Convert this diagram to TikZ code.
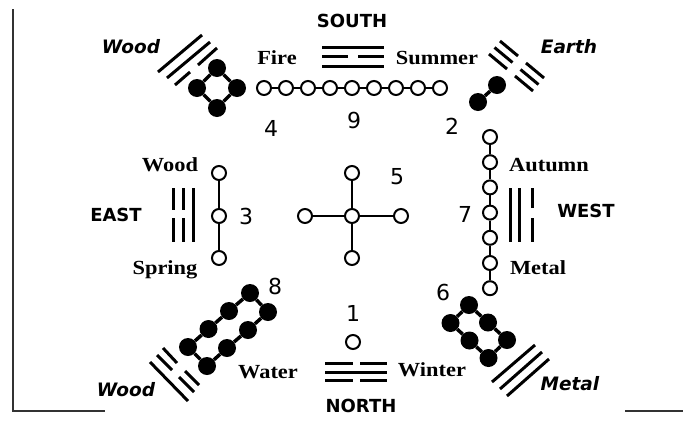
\documentclass[tikz,border=0pt]{standalone}
\usepackage{fontspec}
\setmainfont{DejaVu Sans}
\newfontfamily\serifb[FakeStretch=1.12]{Liberation Serif}
\begin{document}
\begin{tikzpicture}[x=1pt,y=-1pt,
  oc/.style={circle,draw,line width=2pt,minimum size=14pt,inner sep=0pt,fill=white},
  bd/.style={circle,fill=black,minimum size=18pt,inner sep=0pt},
  lk/.style={line width=2pt},
  bk/.style={line width=3.5pt},
  tg/.style={line width=3pt},
  frame/.style={line width=2.2pt,draw=black!80},
  dirl/.style={font=\bfseries\fontsize{18}{18}\selectfont},
  num/.style={font=\fontsize{22}{22}\selectfont},
  ita/.style={font=\bfseries\itshape\fontsize{18.5}{18.5}\selectfont},
  ser/.style={font=\serifb\bfseries\fontsize{20}{20}\selectfont}]
\useasboundingbox (0,0) rectangle (683,421);
% frame
\draw[frame] (13,9) -- (13,411) -- (105,411);
\draw[frame] (625,411) -- (683,411);

% chain 9 (top)
\foreach \i in {0,...,8} \node[oc] (n9-\i) at (264+22*\i,88) {};
\foreach \i [evaluate=\i as \j using int(\i+1)] in {0,...,7} \draw[lk] (n9-\i) -- (n9-\j);

% chain 3 (left)
\node[oc] (n3-0) at (219,173) {};
\node[oc] (n3-1) at (219,216) {};
\node[oc] (n3-2) at (219,258) {};
\draw[lk] (n3-0) -- (n3-1) -- (n3-2);

% cross 5
\node[oc] (c5) at (352,216) {};
\node[oc] (t5) at (352,173) {};
\node[oc] (b5) at (352,258) {};
\node[oc] (l5) at (305,216) {};
\node[oc] (r5) at (401,216) {};
\draw[lk] (c5) -- (t5); \draw[lk] (c5) -- (b5);
\draw[lk] (c5) -- (l5); \draw[lk] (c5) -- (r5);

% chain 7 (right)
\foreach \i in {0,...,6} \node[oc] (n7-\i) at (490,137+25.2*\i) {};
\foreach \i [evaluate=\i as \j using int(\i+1)] in {0,...,5} \draw[lk] (n7-\i) -- (n7-\j);

% 1 (bottom)
\node[oc] (n1) at (353,342) {};

% 2 (top right)
\node[bd] (n2a) at (497,85) {};
\node[bd] (n2b) at (478,102) {};
\draw[bk] (n2a) -- (n2b);

% 4 (top left)
\node[bd] (n4a) at (217,68) {};
\node[bd] (n4b) at (197,88) {};
\node[bd] (n4c) at (217,108) {};
\node[bd] (n4d) at (237,88) {};
\draw[bk] (n4a) -- (n4b) -- (n4c) -- (n4d) -- (n4a);

% 6 (bottom right)
\node[bd] (n6a) at (469,305) {};
\node[bd] (n6b) at (450.5,323) {};
\node[bd] (n6c) at (469.5,340.5) {};
\node[bd] (n6d) at (488.5,358) {};
\node[bd] (n6e) at (507,340) {};
\node[bd] (n6f) at (488,322.5) {};
\draw[bk] (n6a) -- (n6b) -- (n6c) -- (n6d) -- (n6e) -- (n6f) -- (n6a);

% 8 (bottom left)
\node[bd] (n8a) at (250,293) {};
\node[bd] (n8b) at (268,312) {};
\node[bd] (n8c) at (248,330) {};
\node[bd] (n8d) at (227,348) {};
\node[bd] (n8e) at (207,366) {};
\node[bd] (n8f) at (188,347) {};
\node[bd] (n8g) at (208.5,329) {};
\node[bd] (n8h) at (229,311) {};
\draw[bk] (n8a) -- (n8b) -- (n8c) -- (n8d) -- (n8e) -- (n8f) -- (n8g) -- (n8h) -- (n8a);

% trigrams
% South (Li)
\draw[tg] (322,47) -- (384,47);
\draw[tg] (322,56.5) -- (348,56.5) (358,56.5) -- (384,56.5);
\draw[tg] (322,66) -- (384,66);
% North (Kan)
\draw[tg] (325,363) -- (353,363) (360,363) -- (387,363);
\draw[tg] (325,372) -- (387,372);
\draw[tg] (325,380.5) -- (353,380.5) (360,380.5) -- (387,380.5);
% East (Zhen)
\draw[tg] (173,188) -- (173,210) (173,218) -- (173,242);
\draw[tg] (183,188) -- (183,210) (183,218) -- (183,242);
\draw[tg] (193,188) -- (193,242);
% West (Dui)
\draw[tg] (510,188) -- (510,242);
\draw[tg] (519,188) -- (519,242);
\draw[tg] (532,188) -- (532,208) (532,218) -- (532,242);
% Wood top left
\draw[tg] (158,72) -- (202,35);
\draw[tg] (167,78) -- (210,42);
\draw[tg] (175,85) -- (190,72) (198,65) -- (217,48);
% Earth top right
\draw[tg] (489,54) -- (507,69) (515,76) -- (533,91);
\draw[tg] (494.5,47.5) -- (512.5,62.5) (520.5,69.5) -- (538.5,84.5);
\draw[tg] (500,41) -- (518,56) (526,63) -- (544,78);
% Wood bottom left
\draw[tg] (150,362) -- (188,401);
\draw[tg] (157,355) -- (172,370) (179,377) -- (194,392);
\draw[tg] (163,348) -- (177,363) (185,371) -- (199,385);
% Metal bottom right
\draw[tg] (492,382) -- (535,345);
\draw[tg] (500,389) -- (542,352);
\draw[tg] (507,396) -- (549,359);

% labels
\node[dirl] (south) at (352,21) {SOUTH};
\node[dirl] (north) at (361,406) {NORTH};
\node[dirl] (east) at (116,215) {EAST};
\node[dirl] (west) at (586,211) {WEST};

\node[ser] (fire) at (277,58) {Fire};
\node[ser] (summer) at (437,58) {Summer};
\node[ser] (woodl) at (170,165) {Wood};
\node[ser] (spring) at (165,270) {Spring};
\node[ser] (autumn) at (549,165) {Autumn};
\node[ser] (metalr) at (538,268) {Metal};
\node[ser] (water) at (268,372) {Water};
\node[ser] (winter) at (432,370) {Winter};

\node[ita] (woodtl) at (131,47) {Wood};
\node[ita] (earth) at (569,47) {Earth};
\node[ita] (woodbl) at (126,390) {Wood};
\node[ita] (metalbr) at (570,384) {Metal};

\node[num] (l4) at (271,128) {4};
\node[num] (l9) at (354,120) {9};
\node[num] (l2) at (452,126) {2};
\node[num] (l3) at (246,216) {3};
\node[num] (l5) at (397,177) {5};
\node[num] (l7) at (465,214) {7};
\node[num] (l8) at (275,286) {8};
\node[num] (l6) at (443,292) {6};
\node[num] (l1) at (353,313) {1};
\end{tikzpicture}
\end{document}
